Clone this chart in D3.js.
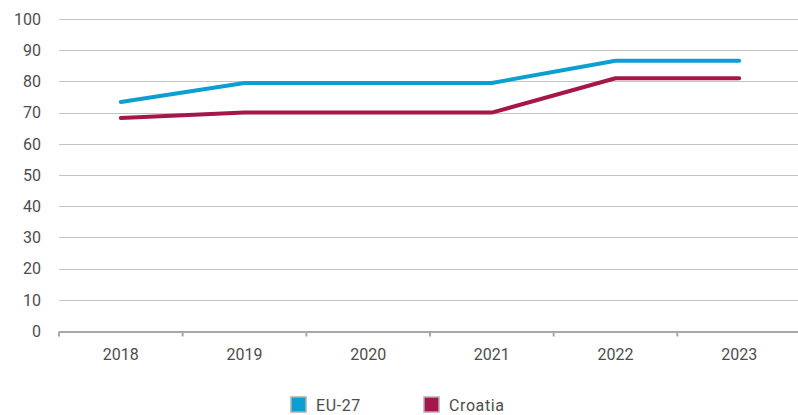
<!DOCTYPE html>
<html>
<head>
<meta charset="utf-8">
<script src="https://cdn.jsdelivr.net/npm/d3@7"></script>
<style>
  body { margin: 0; background: #fff; }
  text { font-family: Roboto, "DejaVu Sans", sans-serif; fill: #4d4d4d; }
</style>
</head>
<body>
<div class="chart"></div>
<script>
const years = ['2018', '2019', '2020', '2021', '2022', '2023']
const eu27 = [73.4, 79.5, 79.5, 79.5, 86.6, 86.6]
const croatia = [68.3, 70, 70, 70, 81, 81]
const yTicks = [0, 10, 20, 30, 40, 50, 60, 70, 80, 90, 100]

const series = [
    { name: 'EU-27', values: eu27, color: '#0c9fd1' },
    { name: 'Croatia', values: croatia, color: '#a5164b' }
]

const width = 798
const height = 415

const margin = { top: 19, right: -3, bottom: 84, left: 59 }

const svg = d3.select('.chart')
    .append('svg')
    .attr('width', width)
    .attr('height', height)

const x = d3.scaleBand()
    .domain(years)
    .range([margin.left, width - margin.right])

const y = d3.scaleLinear()
    .domain([0, 100])
    .range([height - margin.bottom, margin.top])

// gridlines
svg.append('g')
    .selectAll('line')
    .data(yTicks.filter(d => d > 0))
    .enter()
    .append('line')
    .attr('x1', margin.left)
    .attr('x2', width)
    .attr('y1', d => Math.round(y(d)) + 0.5)
    .attr('y2', d => Math.round(y(d)) + 0.5)
    .attr('stroke', '#c4c4c4')
    .attr('stroke-width', 1)

// y labels
svg.append('g')
    .selectAll('text')
    .data(yTicks)
    .enter()
    .append('text')
    .attr('x', 41)
    .attr('y', d => y(d))
    .attr('dy', '0.36em')
    .attr('text-anchor', 'end')
    .attr('font-size', 16)
    .text(d => d)

// x axis
const xAxis = svg.append('g')
    .attr('transform', `translate(0,${Math.round(y(0)) + 0.5})`)
    .call(d3.axisBottom(x).tickSize(0).tickPadding(17))

xAxis.select('.domain')
    .attr('stroke', '#a8a8a8')
    .attr('stroke-width', 2)

xAxis.selectAll('text')
    .attr('font-size', 16)
    .attr('fill', '#4d4d4d')

const bounds = years.map(d => x(d)).concat([x(years[years.length - 1]) + x.bandwidth()])
xAxis.append('g')
    .selectAll('line')
    .data(bounds)
    .enter()
    .append('line')
    .attr('x1', d => d)
    .attr('x2', d => d)
    .attr('y1', 0)
    .attr('y2', 5)
    .attr('stroke', '#a8a8a8')
    .attr('stroke-width', 2)

// lines
const line = d3.line()
    .x((d, i) => x(years[i]) + x.bandwidth() / 2)
    .y(d => y(d))

svg.append('g')
    .selectAll('path')
    .data(series)
    .enter()
    .append('path')
    .attr('d', d => line(d.values))
    .attr('fill', 'none')
    .attr('stroke', d => d.color)
    .attr('stroke-width', 4)
    .attr('stroke-linecap', 'round')
    .attr('stroke-linejoin', 'round')

// legend
const legend = svg.append('g')
    .selectAll('g')
    .data(series)
    .enter()
    .append('g')
    .attr('transform', (d, i) => `translate(${291 + i * 133},397)`)

legend.append('rect')
    .attr('width', 15)
    .attr('height', 15)
    .attr('fill', d => d.color)
    .attr('stroke', '#b0b0b0')
    .attr('stroke-width', 1.5)

legend.append('text')
    .attr('x', 25)
    .attr('y', 8)
    .attr('dy', '0.36em')
    .attr('font-size', 16)
    .attr('letter-spacing', 0.6)
    .text(d => d.name)
</script>
</body>
</html>
